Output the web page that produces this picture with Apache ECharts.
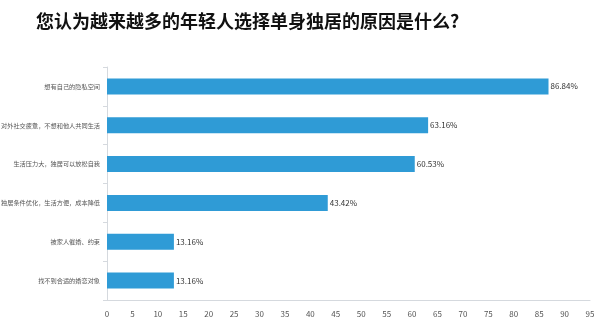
<!DOCTYPE html>
<html><head><meta charset="utf-8">
<script src="https://cdn.jsdelivr.net/npm/echarts@6/dist/echarts.min.js"></script>
<style>html,body{margin:0;padding:0;background:#fff}#c{width:598px;height:329px}</style>
</head><body><div id="c"></div>
<script>
const title = '您认为越来越多的年轻人选择单身独居的原因是什么?';
const categories = ['想有自己的隐私空间','对外社交疲惫，不想和他人共同生活','生活压力大，独居可以放松自我','独居条件优化，生活方便，成本降低','被家人催婚、约束','找不到合适的婚恋对象'];
const values = [86.84, 63.16, 60.53, 43.42, 13.16, 13.16];
const xTicks = {min: 0, max: 95, interval: 5};

const chart = echarts.init(document.getElementById('c'));
chart.setOption({
  animation: false,
  title: {text: title, left: 31, top: 7, textStyle: {fontFamily: 'Noto Sans CJK SC', fontSize: 18, fontWeight: 'bold', color: '#111'}},
  grid: {left: 107, right: 8, top: 67, bottom: 29, containLabel: false, outerBoundsMode: 'none'},
  xAxis: {type: 'value', min: xTicks.min, max: xTicks.max, interval: xTicks.interval,
    splitLine: {show: false},
    axisLine: {show: true, lineStyle: {color: '#d5d9de'}},
    axisTick: {show: false},
    axisLabel: {color: '#555', fontSize: 8, margin: 10, fontFamily: 'Noto Sans CJK SC'}},
  yAxis: {type: 'category', data: categories, inverse: true,
    axisLine: {show: true, lineStyle: {color: '#d5d9de'}},
    axisTick: {show: true, length: 4, lineStyle: {color: '#d5d9de'}},
    axisLabel: {color: '#555', fontSize: 6.2, margin: 7, fontFamily: 'Noto Sans CJK SC'}},
  series: [{type: 'bar', data: values, barWidth: 16,
    itemStyle: {color: '#2f9bd6'},
    label: {show: true, position: 'right', distance: 2, color: '#333', fontSize: 8, fontFamily: 'Noto Sans CJK SC', formatter: p => p.value.toFixed(2) + '%'}}]
});
</script></body></html>
